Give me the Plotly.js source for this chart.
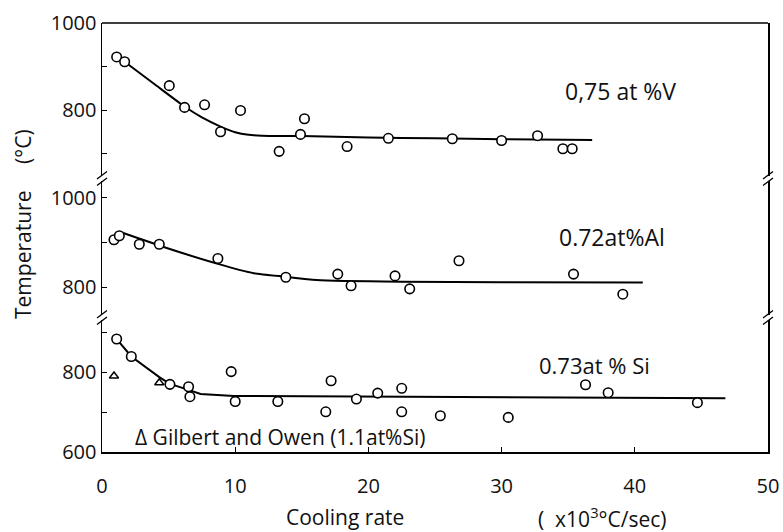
<!DOCTYPE html>
<html>
<head>
<meta charset="utf-8">
<script src="https://cdn.plot.ly/plotly-3.0.1.min.js"></script>
<style>html,body{margin:0;padding:0;background:#fff;}#chart{width:783px;height:532px;}</style>
</head>
<body>
<div id="chart"></div>
<script>
// ---- Data ----
// 0.75 at% V (top panel)
const vX = [1.1, 1.7, 5.05, 6.2, 7.7, 8.9, 10.4, 13.3, 14.9, 15.2, 18.4, 21.5, 26.3, 30.0, 32.7, 34.6, 35.3];
const vY = [922, 911, 856, 806, 812, 750, 799, 705, 744, 780, 716, 735, 734, 730, 741, 711, 711];
const vFitX = [1.7, 4, 6.2, 7.5, 8.9, 10, 11, 12, 15, 20, 25, 30, 36.8];
const vFitY = [911, 858, 808, 783, 762, 749, 743, 741, 740, 737, 735, 733, 731];

// 0.72 at% Al (middle panel)
const alX = [0.9, 1.3, 2.8, 4.3, 8.7, 13.8, 17.7, 18.7, 22.0, 23.1, 26.8, 35.4, 39.1];
const alY = [906, 915, 896, 896, 864, 822, 829, 803, 825, 796, 859, 829, 784];
const alFitX = [1.6, 4.4, 8.7, 11.4, 13.8, 16.1, 22.4, 30, 40.6];
const alFitY = [921, 892, 852, 831, 823, 816, 812, 811, 810];

// 0.73 at% Si (bottom panel)
const siX = [1.1, 2.2, 5.1, 6.5, 6.6, 9.7, 10.0, 13.2, 16.8, 17.2, 19.1, 20.7, 22.5, 22.5, 25.4, 30.5, 36.3, 38.0, 44.7];
const siY = [884, 840, 770, 764, 739, 802, 727, 727, 701, 779, 733, 748, 760, 701, 691, 687, 769, 749, 724];
const siFitX = [1.2, 2.2, 4.3, 5.1, 6.5, 7.4, 9.9, 25, 46.8];
const siFitY = [880, 840, 788, 771, 756, 746, 741, 738, 735];

// Gilbert and Owen (1.1 at% Si)
const goX = [0.9, 4.3];
const goY = [791, 774];

// Axis ticks
const xTicks = [0, 10, 20, 30, 40, 50];
const yTopTicks = [800, 1000];
const yTopMinor = [700, 900];
const yMidTicks = [800, 1000];
const yMidMinor = [900];
const yBotTicks = [600, 800];
const yBotMinor = [700, 900];

const FONT = 'Open Sans, DejaVu Sans, sans-serif';
const circle = {symbol: 'circle', size: 9.5, color: '#fff', line: {color: '#000', width: 1.6}};
const lineStyle = {color: '#000', width: 2};

const traces = [
  {x: vFitX, y: vFitY, yaxis: 'y', mode: 'lines', line: Object.assign({shape: 'spline', smoothing: 0.6}, lineStyle), hoverinfo: 'skip'},
  {x: vX, y: vY, yaxis: 'y', mode: 'markers', marker: circle},
  {x: alFitX, y: alFitY, yaxis: 'y2', mode: 'lines', line: Object.assign({shape: 'spline', smoothing: 0.6}, lineStyle), hoverinfo: 'skip'},
  {x: alX, y: alY, yaxis: 'y2', mode: 'markers', marker: circle},
  {x: siFitX, y: siFitY, yaxis: 'y3', mode: 'lines', line: Object.assign({shape: 'linear'}, lineStyle), hoverinfo: 'skip'},
  {x: siX, y: siY, yaxis: 'y3', mode: 'markers', marker: circle},
  {x: goX, y: goY, yaxis: 'y3', mode: 'markers', marker: {symbol: 'triangle-up-open', size: 8, color: '#000', line: {width: 1.5}}}
];

function yAxis(domain, range, vals, minorVals) {
  return {
    domain: domain, range: range,
    showline: true, mirror: true, linecolor: '#000', linewidth: 1.5,
    ticks: 'inside', ticklen: 5, tickcolor: '#000', tickwidth: 1,
    showgrid: false, zeroline: false, anchor: 'x',
    tickmode: 'array', tickvals: vals,
    minor: {tickmode: 'array', tickvals: minorVals, ticks: 'inside', ticklen: 5, tickcolor: '#000', tickwidth: 1, showgrid: false},
    tickfont: {family: FONT, size: 20, color: '#111'}
  };
}

// break marks on the axis gaps
function brk(xa, yc) {
  const common = {type: 'line', xref: 'paper', yref: 'paper', xsizemode: 'pixel', ysizemode: 'pixel',
    xanchor: xa, yanchor: yc, line: {color: '#000', width: 1.3}};
  return [
    Object.assign({x0: -5, y0: -0.5, x1: 5, y1: 7}, common),
    Object.assign({x0: -5, y0: -7, x1: 5, y1: 0.5}, common)
  ];
}
const gap1 = (0.632 + 0.643) / 2;
const gap2 = (0.308 + 0.319) / 2;

function note(text, x, y, xref, yref, size, extra) {
  return Object.assign({text: text, x: x, y: y, xref: xref, yref: yref, xanchor: 'center', yanchor: 'middle',
    showarrow: false, font: {family: FONT, size: size, color: '#111'}}, extra || {});
}

const layout = {
  width: 783, height: 532,
  margin: {l: 102, r: 15, t: 23, b: 80},
  paper_bgcolor: '#fff', plot_bgcolor: '#fff',
  showlegend: false,
  font: {family: FONT, color: '#111'},
  xaxis: {
    range: [0, 50], anchor: 'y3', showline: true, linecolor: '#000', linewidth: 1.5,
    ticks: 'inside', ticklen: 5, tickcolor: '#000', tickmode: 'array', tickvals: xTicks,
    showgrid: false, zeroline: false, tickfont: {family: FONT, size: 20, color: '#111'},
    ticklabelstandoff: 15
  },
  yaxis: yAxis([0.643, 1], [648, 1000], yTopTicks, yTopMinor),
  yaxis2: yAxis([0.319, 0.632], [737, 1038], yMidTicks, yMidMinor),
  yaxis3: yAxis([0, 0.308], [600, 932], yBotTicks, yBotMinor),
  shapes: [
    {type: 'line', xref: 'paper', yref: 'paper', x0: 0, x1: 1, y0: 1, y1: 1, line: {color: '#000', width: 1.5}}
  ].concat(brk(0, gap1), brk(1, gap1), brk(0, gap2), brk(1, gap2)),
  annotations: [
    note('0,75 at %V', 38.96, 844, 'x', 'y', 23),
    note('0.72at%Al', 38.3, 912, 'x', 'y2', 23),
    note('0.73at % Si', 37.0, 819, 'x', 'y3', 22),
    note('\u0394 Gilbert and Owen (1.1at%Si)', 2.3, 638, 'x', 'y3', 21, {xanchor: 'left'}),
    note('Cooling rate', (345 - 102) / 666, -(517 - 452) / 429, 'paper', 'paper', 21),
    note('(  x10<sup>3</sup>°C/sec)', (602 - 102) / 666, -(517 - 452) / 429, 'paper', 'paper', 21),
    note('Temperature', (23 - 102) / 666, (452 - 255) / 429, 'paper', 'paper', 21, {textangle: -90}),
    note('(°C)', (23 - 102) / 666, (452 - 147) / 429, 'paper', 'paper', 21, {textangle: -90})
  ]
};

Plotly.newPlot('chart', traces, layout, {displayModeBar: false, staticPlot: true});
</script>
</body>
</html>
